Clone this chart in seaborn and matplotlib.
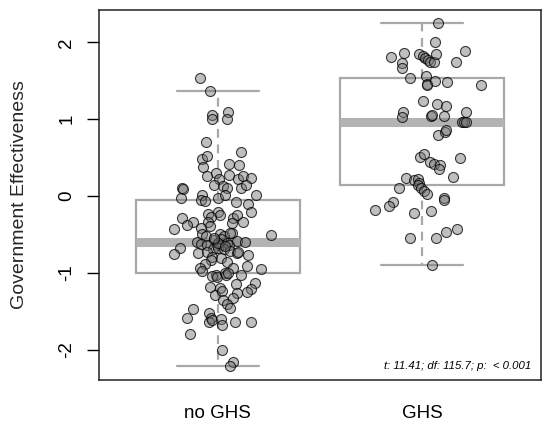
import numpy as np
import pandas as pd
import matplotlib
matplotlib.use('Agg')
import matplotlib.pyplot as plt
import seaborn as sns

# Values (government effectiveness) and the horizontal jitter of each point
no_ghs_val = [1.54, 1.37, 1.06, 1.00, 1.09, 1.00, 0.71, 0.58, 0.48, 0.52,
              0.38, 0.42, 0.41, 0.26, 0.30, 0.22, 0.27, 0.22, 0.26, 0.24,
              0.15, 0.13, 0.11, 0.11, 0.14, 0.10, 0.09, -0.02, 0.01, -0.05,
              -0.06, -0.03, 0.02, 0.02, -0.08, -0.10, -0.20, -0.23, -0.20, -0.24,
              -0.27, -0.28, -0.25, -0.28, -0.34, -0.38, -0.43, -0.34, -0.39, -0.35,
              -0.33, -0.42, -0.48, -0.49, -0.52, -0.49, -0.52, -0.48, -0.50, -0.56,
              -0.57, -0.60, -0.62, -0.64, -0.64, -0.63, -0.61, -0.63, -0.58, -0.59,
              -0.68, -0.75, -0.74, -0.69, -0.67, -0.69, -0.71, -0.74, -0.73, -0.79,
              -0.83, -0.80, -0.86, -0.76, -0.72, -0.88, -0.94, -0.97, -0.91, -0.95,
              -0.94, -1.03, -1.04, -1.05, -1.00, -1.02, -1.00, -1.03, -1.18, -1.20,
              -1.14, -1.13, -1.21, -1.25, -1.29, -1.23, -1.26, -1.32, -1.35, -1.40,
              -1.45, -1.47, -1.59, -1.52, -1.59, -1.63, -1.61, -1.60, -1.68, -1.63,
              -1.63, -1.79, -2.00, -2.16, -2.21, -0.61, -0.65, -0.55]
no_ghs_jit = [-0.085, -0.036, -0.029, -0.029, 0.049, 0.044, -0.057, 0.112, -0.076, -0.050,
              -0.070, 0.057, 0.104, -0.052, -0.010, 0.005, 0.057, 0.099, 0.125, 0.161,
              -0.016, 0.026, 0.044, 0.115, 0.137, -0.176, -0.171, -0.179, -0.076, -0.083,
              -0.063, 0.002, 0.036, 0.185, 0.091, 0.150, 0.161, -0.047, 0.002, 0.011,
              -0.034, 0.073, 0.096, -0.176, -0.122, -0.151, -0.213, -0.045, -0.039, 0.072,
              0.125, -0.080, 0.068, -0.078, -0.057, 0.010, 0.029, 0.060, 0.263, 0.016,
              -0.018, -0.099, -0.080, -0.050, -0.005, 0.021, 0.044, 0.057, 0.093, 0.133,
              -0.185, -0.215, -0.094, -0.021, 0.003, 0.031, 0.060, 0.093, -0.052, -0.028,
              -0.034, 0.016, 0.046, 0.148, 0.099, -0.062, -0.086, -0.078, 0.143, 0.210,
              0.073, -0.008, -0.026, -0.002, 0.034, 0.041, 0.052, 0.112, -0.036, 0.011,
              0.089, 0.182, 0.162, 0.145, -0.015, 0.023, 0.093, 0.077, 0.026, 0.047,
              0.060, -0.122, -0.148, -0.041, -0.034, -0.041, -0.028, 0.015, 0.020, 0.085,
              0.162, -0.135, 0.020, 0.073, 0.059, 0.002, 0.036, -0.018]

ghs_val = [2.25, 2.01, 1.81, 1.86, 1.85, 1.82, 1.80, 1.77, 1.74, 1.74,
           1.85, 1.89, 1.74, 1.73, 1.66, 1.54, 1.56, 1.46, 1.44, 1.50,
           1.48, 1.45, 1.24, 1.20, 1.17, 1.10, 1.09, 1.03, 1.04, 1.05,
           1.04, 0.97, 0.97, 0.97, 0.80, 0.84, 0.86, 0.51, 0.55, 0.45,
           0.42, 0.41, 0.35, 0.49, 0.25, 0.23, 0.21, 0.22, 0.17, 0.14,
           0.10, 0.07, 0.03, 0.11, -0.03, -0.05, -0.08, -0.13, -0.18, -0.22,
           -0.19, -0.55, -0.54, -0.47, -0.43, -0.90]
ghs_jit = [0.077, 0.060, -0.151, -0.091, -0.015, 0.003, 0.011, 0.026, 0.039, 0.059,
           0.065, 0.211, 0.163, -0.101, -0.098, -0.062, 0.016, 0.023, 0.023, 0.062,
           0.120, 0.289, 0.002, 0.070, 0.117, 0.213, -0.093, -0.101, 0.044, 0.049,
           0.107, 0.193, 0.205, 0.213, 0.075, 0.109, 0.117, -0.010, 0.010, 0.039,
           0.055, 0.086, 0.083, 0.182, 0.148, -0.078, -0.041, -0.023, -0.016, -0.021,
           -0.005, 0.010, 0.023, -0.112, 0.104, 0.107, -0.143, -0.164, -0.233, -0.041,
           0.044, -0.062, 0.067, 0.114, 0.169, 0.045]

groups = ['no GHS', 'GHS']
stat_text = 't: 11.41; df: 115.7; p:  < 0.001'

df = pd.DataFrame({
    'group': ['no GHS'] * len(no_ghs_val) + ['GHS'] * len(ghs_val),
    'value': no_ghs_val + ghs_val,
    'jit': no_ghs_jit + ghs_jit,
})
df['xpos'] = df['group'].map({g: i for i, g in enumerate(groups)}) + df['jit']

sns.set_theme(style='white')
plt.rcParams['font.family'] = ['Liberation Sans', 'DejaVu Sans']
plt.rcParams['axes.unicode_minus'] = False

fig = plt.figure(figsize=(5.5, 4.33), dpi=100)
ax = fig.add_axes([0.18, 0.1224, 0.8036, 0.8546])

box_grey = '#a8a8a8'
# whiskers at 1.5 IQR like R; the jittered points replace the fliers
sns.boxplot(data=df, x='group', y='value', order=groups, width=0.8,
            color='white', linecolor=box_grey, linewidth=1.6,
            whis=1.5, showfliers=False, ax=ax,
            medianprops=dict(color='#b3b3b3', linewidth=6.5, solid_capstyle='butt'),
            whiskerprops=dict(linestyle=(0, (4, 3))),
            capprops=dict(linewidth=1.6))

sns.scatterplot(data=df, x='xpos', y='value', ax=ax, s=52,
                color=(0.45, 0.45, 0.45, 0.45), edgecolor=(0, 0, 0, 0.75),
                linewidth=0.8, zorder=5, legend=False)

ax.set_xlim(-0.58, 1.58)
ax.set_ylim(-2.39, 2.42)
ax.set_yticks([-2, -1, 0, 1, 2])
ax.set_xticks([0, 1])
ax.set_xticklabels(groups)
ax.set_xlabel('')
ax.set_ylabel('Government Effectiveness', fontsize=14, labelpad=22)

ax.tick_params(axis='x', length=0, pad=18, labelsize=13.5, colors='black')
ax.tick_params(axis='y', length=9, width=1, pad=8, labelsize=13.5, colors='black',
               direction='out', left=True)
plt.setp(ax.get_yticklabels(), rotation=90, va='center')

for sp in ax.spines.values():
    sp.set_color('#222222')
    sp.set_linewidth(1.1)

ax.text(0.977, 0.038, stat_text, transform=ax.transAxes, ha='right', va='center',
        style='italic', fontsize=8.2, color='black')

fig.savefig('out.png', dpi=100)
